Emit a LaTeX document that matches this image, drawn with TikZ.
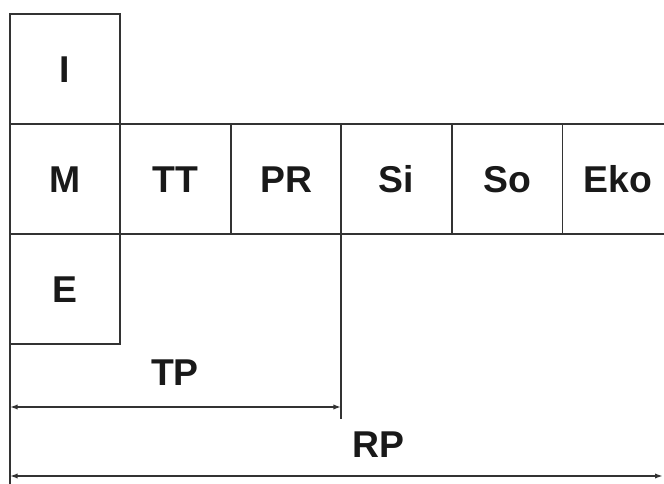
\documentclass[tikz,border=0pt]{standalone}
\usepackage{fontspec}
\setmainfont{Liberation Sans}
\usetikzlibrary{positioning,arrows.meta}

\definecolor{ink}{gray}{0.2}
\tikzset{
  cell/.style={draw=ink,line width=1.3pt,minimum width=82.9pt,minimum height=82.5pt,
    outer sep=0pt,inner sep=0pt,text height=20.2pt,text depth=0pt,
    font=\fontsize{28}{30}\selectfont\bfseries,text=black!90},
  lbl/.style={inner sep=0pt,text height=20.2pt,text depth=0pt,
    font=\fontsize{28}{30}\selectfont\bfseries,text=black!90},
  dim/.style={draw=ink,line width=1.3pt,{Latex[length=6pt,width=4pt]}-{Latex[length=6pt,width=4pt]}}
}

\begin{document}
\begin{tikzpicture}[x=0.75pt,y=-0.75pt,node distance=0pt]
  \useasboundingbox (0,0) rectangle (664,484);
  \clip (0,0) rectangle (664,484);
  % middle row
  \node[cell] (M) at (65,179) {M};
  \node[cell,right=of M] (TT) {TT};
  \node[cell,right=of TT] (PR) {PR};
  \node[cell,right=of PR] (Si) {Si};
  \node[cell,right=of Si] (So) {So};
  \node[cell,right=of So] (Eko) {Eko};
  \node[cell,above=of M] (I) {I};
  \node[cell,below=of M] (E) {E};
  % dimension lines
  \coordinate (bot) at (E.south west |- 0,484);
  \coordinate (siend) at (Si.south west |- 0,419);
  \draw[draw=ink,line width=1.3pt] (E.south west) -- (bot);
  \draw[draw=ink,line width=1.3pt] (Si.south west) -- (siend);
  \coordinate (tpl) at (E.south west |- 0,407);
  \coordinate (tpr) at (Si.south west |- 0,407);
  \coordinate (rpl) at (E.south west |- 0,476);
  \coordinate (rpr) at (663,476);
  \draw[dim] (tpl) -- (tpr);
  \draw[dim] (rpl) -- (rpr);
  \node[lbl] (TP) at (175,372) {TP};
  \node[lbl] (RP) at (378,444) {RP};
\end{tikzpicture}
\end{document}
